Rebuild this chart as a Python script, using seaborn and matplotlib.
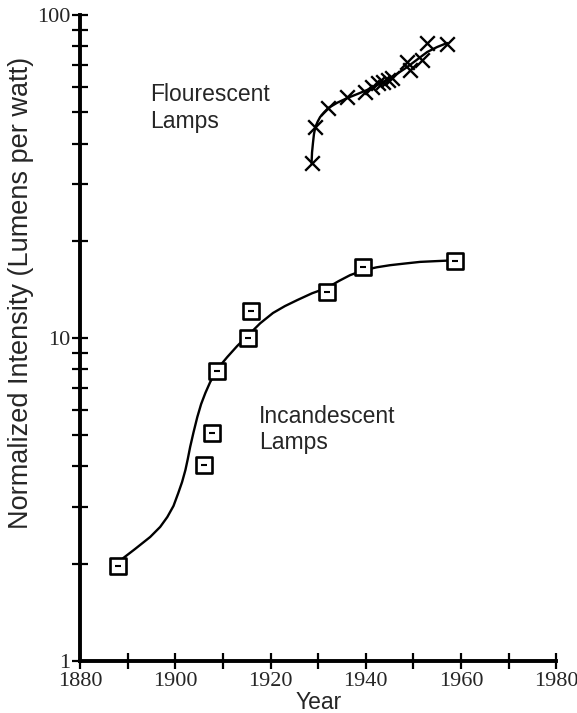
import matplotlib
matplotlib.use("Agg")
import matplotlib.pyplot as plt
import matplotlib.ticker as mticker
import seaborn as sns
import pandas as pd

# --- data ---
# incandescent lamps: measured points
inc_year = [1888.0, 1906.0, 1907.7, 1908.8, 1915.3, 1915.9, 1931.9, 1939.5, 1958.8]
inc_lpw = [1.97, 4.05, 5.08, 7.9, 10.0, 12.1, 13.9, 16.6, 17.3]

# incandescent lamps: fitted trend curve (traced)
inc_fit_year = [1889.0, 1891.5, 1894.7, 1896.8, 1898.3, 1899.6, 1900.6, 1901.4, 1902.1,
                1902.6, 1903.1, 1903.8, 1904.6, 1905.4, 1906.3, 1907.3, 1908.4, 1909.6,
                1910.9, 1913.0, 1915.3, 1917.8, 1920.5, 1923.0, 1925.6, 1928.7, 1931.9,
                1934.3, 1936.7, 1939.5, 1942.3, 1945.1, 1948.2, 1951.4, 1955.0, 1958.8]
inc_fit_lpw = [2.08, 2.22, 2.42, 2.60, 2.79, 3.02, 3.31, 3.58, 3.90,
               4.22, 4.60, 5.10, 5.69, 6.24, 6.76, 7.30, 7.80, 8.28,
               8.73, 9.45, 10.2, 11.1, 11.95, 12.55, 13.1, 13.75, 14.3,
               15.0, 15.65, 16.2, 16.55, 16.8, 17.0, 17.2, 17.3, 17.4]

# fluorescent lamps: measured points
flu_year = [1928.7, 1929.4, 1932.1, 1936.1, 1939.9, 1941.3, 1942.6, 1943.7, 1944.7,
            1945.5, 1948.7, 1949.3, 1951.8, 1952.9, 1957.1]
flu_lpw = [34.8, 45.0, 51.5, 55.7, 57.8, 59.9, 61.5, 62.0, 63.0,
           64.0, 71.5, 67.6, 72.6, 81.9, 81.3]

# fluorescent lamps: fitted trend curve (traced)
flu_fit_year = [1928.6, 1928.7, 1928.9, 1929.1, 1929.4, 1929.9, 1930.4, 1931.2, 1932.1,
                1934.0, 1936.1, 1938.2, 1940.3, 1942.4, 1944.5, 1946.6, 1948.7, 1950.8,
                1952.9, 1955.0, 1957.1]
flu_fit_lpw = [34.8, 37.5, 40.2, 42.7, 45.0, 46.8, 48.3, 49.9, 51.5,
               53.5, 55.3, 56.9, 58.6, 60.7, 63.0, 65.8, 69.0, 72.8,
               76.8, 79.6, 81.9]

x_ticks = [1880, 1890, 1900, 1910, 1920, 1930, 1940, 1950, 1960, 1970, 1980]
x_labels = ["1880", "", "1900", "", "1920", "", "1940", "", "1960", "", "1980"]

inc = pd.DataFrame({"year": inc_year, "lpw": inc_lpw})
inc_fit = pd.DataFrame({"year": inc_fit_year, "lpw": inc_fit_lpw})
flu = pd.DataFrame({"year": flu_year, "lpw": flu_lpw})
flu_fit = pd.DataFrame({"year": flu_fit_year, "lpw": flu_fit_lpw})

sns.set_style("ticks")
plt.rcParams["font.family"] = ["Liberation Sans", "DejaVu Sans"]

fig = plt.figure(figsize=(5.77, 7.13), dpi=100)
ax = fig.add_axes([0.139, 0.073, 0.825, 0.906])

# curves
sns.lineplot(data=inc_fit, x="year", y="lpw", color="black", lw=1.7, ax=ax, sort=False)
sns.lineplot(data=flu_fit, x="year", y="lpw", color="black", lw=1.7, ax=ax, sort=False)

# boxed markers for incandescent
sns.scatterplot(data=inc, x="year", y="lpw", marker="s", s=120, facecolor="white",
                edgecolor="black", linewidth=1.9, ax=ax, zorder=3)
sns.scatterplot(data=inc, x="year", y="lpw", marker="_", s=20, color="black",
                linewidth=1.5, ax=ax, zorder=4)
# crosses for fluorescent
sns.scatterplot(data=flu, x="year", y="lpw", marker="x", s=110, color="black",
                linewidth=1.7, ax=ax, zorder=3)

ax.set_yscale("log")
ax.set_xlim(1880, 1980)
ax.set_ylim(1, 100)

ax.set_xticks(x_ticks)
ax.set_xticklabels(x_labels)
ax.yaxis.set_major_locator(mticker.FixedLocator([1, 10, 100]))
ax.yaxis.set_major_formatter(mticker.FixedFormatter(["1", "10", "100"]))
ax.yaxis.set_minor_locator(mticker.LogLocator(base=10, subs=[2, 3, 4, 5, 6, 7, 8, 9]))
ax.yaxis.set_minor_formatter(mticker.NullFormatter())

for lab in ax.get_xticklabels() + ax.get_yticklabels():
    lab.set_family("Liberation Serif")
    lab.set_fontsize(16)

ax.tick_params(axis="both", which="both", direction="inout", length=12, width=1.6,
               color="black", pad=2)
ax.tick_params(axis="y", which="major", pad=1)

sns.despine(ax=ax)
for side in ("left", "bottom"):
    ax.spines[side].set_linewidth(2.8)
    ax.spines[side].set_color("black")

ax.set_xlabel("Year", fontsize=16.5, labelpad=0)
ax.set_ylabel("Normalized Intensity (Lumens per watt)", fontsize=19.5)
ax.yaxis.set_label_coords(-0.097, 0.57)

ax.text(1894.6, 51.5, "Flourescent\nLamps", fontsize=16.5, ha="left", va="center",
        linespacing=1.2)
ax.text(1917.6, 5.2, "Incandescent\nLamps", fontsize=16.5, ha="left", va="center",
        linespacing=1.2)

fig.savefig("out.png", dpi=100)
